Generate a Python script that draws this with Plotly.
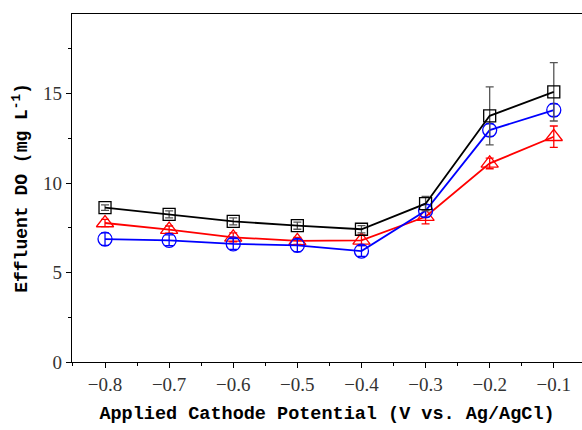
import plotly.graph_objects as go

potential = [-0.8, -0.7, -0.6, -0.5, -0.4, -0.3, -0.2, -0.1]
black_do = [8.63, 8.25, 7.86, 7.62, 7.42, 8.85, 13.76, 15.1]
black_err = [0.15, 0.2, 0.2, 0.2, 0.2, 0.4, 1.62, 1.63]
blue_do = [6.87, 6.8, 6.6, 6.52, 6.2, 8.45, 12.96, 14.08]
blue_err = [0.35, 0.3, 0.3, 0.35, 0.3, 0.35, 0.35, 0.35]
red_do = [7.77, 7.4, 6.97, 6.77, 6.8, 8.12, 11.1, 12.59]
red_err = [0.2, 0.2, 0.25, 0.2, 0.3, 0.4, 0.3, 0.6]

y_ticks = [0, 5, 10, 15]
x_ticks = potential

fig = go.Figure()

def add(y, err, color, ecolor, symbol, size):
    fig.add_trace(go.Scatter(
        x=potential, y=y, mode="lines+markers",
        line=dict(color=color, width=1.8),
        marker=dict(symbol=symbol, size=size, color=color,
                    line=dict(color=color, width=1.3)),
        error_y=dict(type="data", array=err, visible=True, color=ecolor,
                     thickness=1.3, width=4),
        showlegend=False,
    ))

add(red_do, red_err, "#ff0000", "#ff0000", "triangle-up-open", 15)
add(blue_do, blue_err, "#0000ff", "#0000ff", "circle-open", 14)
add(black_do, black_err, "#000000", "#555555", "square-open", 12)

fig.update_layout(
    width=582, height=430,
    margin=dict(l=72, r=0, t=14, b=68),
    plot_bgcolor="white", paper_bgcolor="white",
    font=dict(family="Liberation Serif", size=18, color="#000"),
    xaxis=dict(
        range=[-0.8515, -0.056],
        tickmode="array", tickvals=x_ticks,
        ticktext=["\u22120.%d" % round(-v * 10) for v in x_ticks],
        ticks="outside", ticklen=5, tickwidth=1, tickcolor="#000",
        minor=dict(dtick=0.05, tick0=-0.85, ticks="outside", ticklen=3, tickcolor="#000"),
        showline=True, linecolor="#000", linewidth=1.3, mirror=True,
        showgrid=False, zeroline=False,
        tickfont=dict(family="Liberation Serif", size=19, color="#333"),
        title=dict(text="<b>Applied Cathode Potential (V vs. Ag/AgCl)</b>",
                   font=dict(family="Liberation Mono", size=18.5, color="#000"),
                   standoff=12),
    ),
    yaxis=dict(
        range=[0, 19.45],
        tickmode="array", tickvals=y_ticks,
        ticks="outside", ticklen=5, tickwidth=1, tickcolor="#000",
        minor=dict(dtick=2.5, tick0=0, ticks="outside", ticklen=3, tickcolor="#000"),
        showline=True, linecolor="#000", linewidth=1.3, mirror=False,
        showgrid=False, zeroline=False,
        tickfont=dict(family="Liberation Serif", size=19, color="#333"),
        title=dict(text="<b>Effluent DO (mg L<sup>-1</sup>)</b>",
                   font=dict(family="Liberation Mono", size=18, color="#000"),
                   standoff=10),
    ),
)

fig.write_html("out.html")
